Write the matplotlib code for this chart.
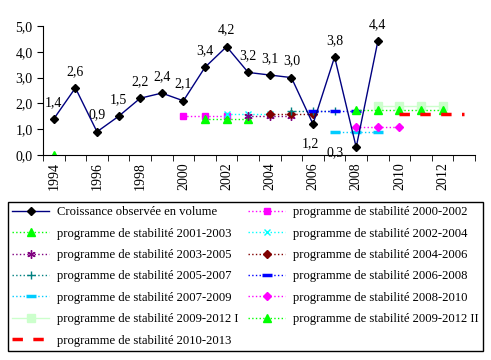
import numpy as np
import matplotlib
matplotlib.use("Agg")
import matplotlib.pyplot as plt

plt.rcParams['font.family'] = ['Liberation Serif', 'DejaVu Serif']
plt.rcParams['font.size'] = 10

years = list(range(1994, 2014))
nan = np.nan

# croissance observee (1994-2009)
observed = [1.4, 2.6, 0.9, 1.5, 2.2, 2.4, 2.1, 3.4, 4.2, 3.2, 3.1, 3.0, 1.2, 3.8, 0.3, 4.4]
observed_labels = ['1,4', '2,6', '0,9', '1,5', '2,2', '2,4', '2,1', '3,4', '4,2', '3,2',
                   '3,1', '3,0', '1,2', '3,8', '0,3', '4,4']


def prog(start, values):
    arr = [nan] * len(years)
    for k, v in enumerate(values):
        arr[years.index(start) + k] = v
    return arr


ps_2000_2002 = prog(2000, [1.5, 1.5, 1.5])
ps_2001_2003 = prog(2001, [1.4, 1.4, 1.4])
ps_2001_2003[0] = 0.0
ps_2002_2004 = prog(2002, [1.6, 1.6, 1.6])
ps_2003_2005 = prog(2003, [1.5, 1.5, 1.5])
ps_2004_2006 = prog(2004, [1.6, 1.6, 1.6])
ps_2005_2007 = prog(2005, [1.7, 1.7, 1.7])
ps_2006_2008 = prog(2006, [1.7, 1.7, 1.7])
ps_2007_2009 = prog(2007, [0.9, 0.9, 0.9])
ps_2008_2010 = prog(2008, [1.1, 1.1, 1.1])
ps_2009_2012_I = prog(2009, [1.9, 1.9, 1.9, 1.9])
ps_2009_2012_II = prog(2008, [1.75, 1.75, 1.75, 1.75, 1.75])
ps_2010_2013 = prog(2010, [1.6, 1.6, 1.6, 1.6])

fig = plt.figure(figsize=(4.91, 3.6), dpi=100)
ax = fig.add_axes([43 / 491, 1 - 155 / 360, 432 / 491, 129 / 360])
x = np.arange(len(years))

h = {}
h['obs'], = ax.plot(x[:len(observed)], observed, color='#000080', lw=1, marker='D',
                    ms=4.5, mfc='black', mec='black', label='Croissance observée en volume', zorder=5)
for i, (v, t) in enumerate(zip(observed, observed_labels)):
    if t == '1,2':
        off = (-2, -14)
    elif t == '0,3':
        off = (-15, -4)
    else:
        off = (0, 12)
    ax.annotate(t, (i, v), xytext=off, textcoords='offset points', ha='center', va='center', fontsize=10)

styles = [
    ('p00', ps_2000_2002, 'programme de stabilité 2000-2002', dict(color='#FF00FF', ls=':', marker='s', ms=5)),
    ('p01', ps_2001_2003, 'programme de stabilité 2001-2003', dict(color='#00FF00', ls=':', marker='^', ms=6)),
    ('p02', ps_2002_2004, 'programme de stabilité 2002-2004', dict(color='#00FFFF', ls=':', marker='x', ms=5)),
    ('p03', ps_2003_2005, 'programme de stabilité 2003-2005', dict(color='#800080', ls=':', marker=(6, 2, 0), ms=6)),
    ('p04', ps_2004_2006, 'programme de stabilité 2004-2006', dict(color='#800000', ls=':', marker='D', ms=4.5)),
    ('p05', ps_2005_2007, 'programme de stabilité 2005-2007', dict(color='#008080', ls=':', marker='+', ms=6)),
    ('p06', ps_2006_2008, 'programme de stabilité 2006-2008', dict(color='#0000FF', ls=':', marker='_', ms=7, mew=2.5)),
    ('p07', ps_2007_2009, 'programme de stabilité 2007-2009', dict(color='#00CCFF', ls=':', marker='_', ms=7, mew=2.5)),
    ('p08', ps_2008_2010, 'programme de stabilité 2008-2010', dict(color='#FF00FF', ls=':', marker='D', ms=4.5)),
    ('p09a', ps_2009_2012_I, 'programme de stabilité 2009-2012 I', dict(color='#CCFFCC', ls='-', marker='s', ms=6)),
    ('p09b', ps_2009_2012_II, 'programme de stabilité 2009-2012 II', dict(color='#00FF00', ls=':', marker='^', ms=6)),
    ('p10', ps_2010_2013, 'programme de stabilité 2010-2013', dict(color='#FF0000', ls=(0, (3, 3)), lw=2.5)),
]
for key, vals, lab, st in styles:
    st.setdefault('lw', 1)
    h[key], = ax.plot(x, vals, label=lab, **st)

ax.set_xlim(-0.5, len(years) - 0.5)
ax.set_ylim(0, 5)
ax.set_yticks(np.arange(0, 5.01, 1))
ax.set_yticklabels(['0,0', '1,0', '2,0', '3,0', '4,0', '5,0'])
ax.set_xticks(x[::2])
ax.set_xticklabels([str(y) for y in years[::2]], rotation=90)
ax.set_xticks(np.arange(-0.5, len(years)), minor=True)
ax.tick_params(axis='x', which='major', length=0, pad=5)
ax.tick_params(axis='x', which='minor', length=4)
ax.tick_params(axis='y', length=4)
for s in ['top', 'right']:
    ax.spines[s].set_visible(False)

order = ['obs', 'p01', 'p03', 'p05', 'p07', 'p09a', 'p10',
         'p00', 'p02', 'p04', 'p06', 'p08', 'p09b']
leg = fig.legend([h[k] for k in order], [h[k].get_label() for k in order], ncol=2,
                 loc='upper left', bbox_to_anchor=(8 / 491, 1 - 202 / 360), borderaxespad=0,
                 fancybox=False, edgecolor='black', framealpha=1,
                 handlelength=2.9, handletextpad=0.6, labelspacing=0.74, borderpad=0.35,
                 columnspacing=0.8, fontsize=9.1)
leg.get_frame().set_linewidth(1)

fig.savefig('out.png', dpi=100)
